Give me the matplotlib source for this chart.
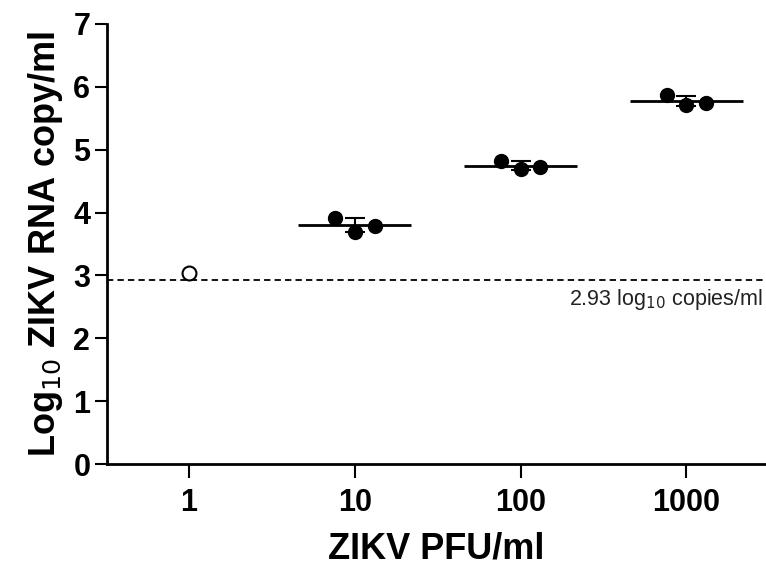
import numpy as np
import matplotlib.pyplot as plt

plt.rcParams['font.family'] = ['Liberation Sans', 'DejaVu Sans']

# dose groups and measured log10 copies/ml
doses = ["1", "10", "100", "1000"]
group_1 = [3.04]
group_10 = [3.92, 3.69, 3.79]
group_100 = [4.82, 4.69, 4.73]
group_1000 = [5.87, 5.71, 5.75]
detection_limit = 2.93

groups = [group_1, group_10, group_100, group_1000]
jitter = [-0.12, 0.0, 0.12]


def plot_group(ax, i, vals):
    if len(vals) == 1:
        ax.plot(i, vals[0], 'o', mfc='white', mec='black', mew=1.5, ms=10, zorder=3)
        return
    mean = np.mean(vals)
    sd = np.std(vals, ddof=1)
    ax.hlines(mean, i - 0.34, i + 0.34, color='black', lw=2, zorder=2)
    ax.errorbar(i, mean, yerr=sd, fmt='none', ecolor='black', elinewidth=1.5,
                capsize=7, capthick=1.5, zorder=2)
    xs = [i + j for j in jitter]
    ax.plot(xs, vals, 'o', color='black', ms=10, zorder=3)


fig = plt.figure(figsize=(7.66, 5.66), dpi=100)
ax = fig.add_axes([0.1397, 0.1802, 0.8603, 0.7774])

for i, vals in enumerate(groups):
    plot_group(ax, i, vals)

ax.axhline(detection_limit, color='black', lw=1.3, ls=(0, (3.5, 2.3)), zorder=1)
ax.text(3.46, detection_limit - 0.12, "2.93 log$_{10}$ copies/ml", ha='right', va='top',
        fontsize=15.5, color='#222222')

ax.set_xlim(-0.494, 3.48)
ax.set_ylim(0, 7)
ax.set_xticks(range(len(doses)))
ax.set_xticklabels(doses)
ax.set_yticks(range(8))

for s in ['top', 'right']:
    ax.spines[s].set_visible(False)
for s in ['left', 'bottom']:
    ax.spines[s].set_linewidth(2)

ax.tick_params(axis='y', length=9, width=1.5, labelsize=22, pad=3)
ax.tick_params(axis='x', length=10, width=1.5, labelsize=22, pad=7)
for lab in ax.get_xticklabels() + ax.get_yticklabels():
    lab.set_fontweight('bold')

ax.set_xlabel("ZIKV PFU/ml", fontsize=26, fontweight='bold', labelpad=10)
ax.set_ylabel("Log$_{10}$ ZIKV RNA copy/ml", fontsize=26, fontweight='bold', labelpad=6)

fig.savefig("out.png", dpi=100)
